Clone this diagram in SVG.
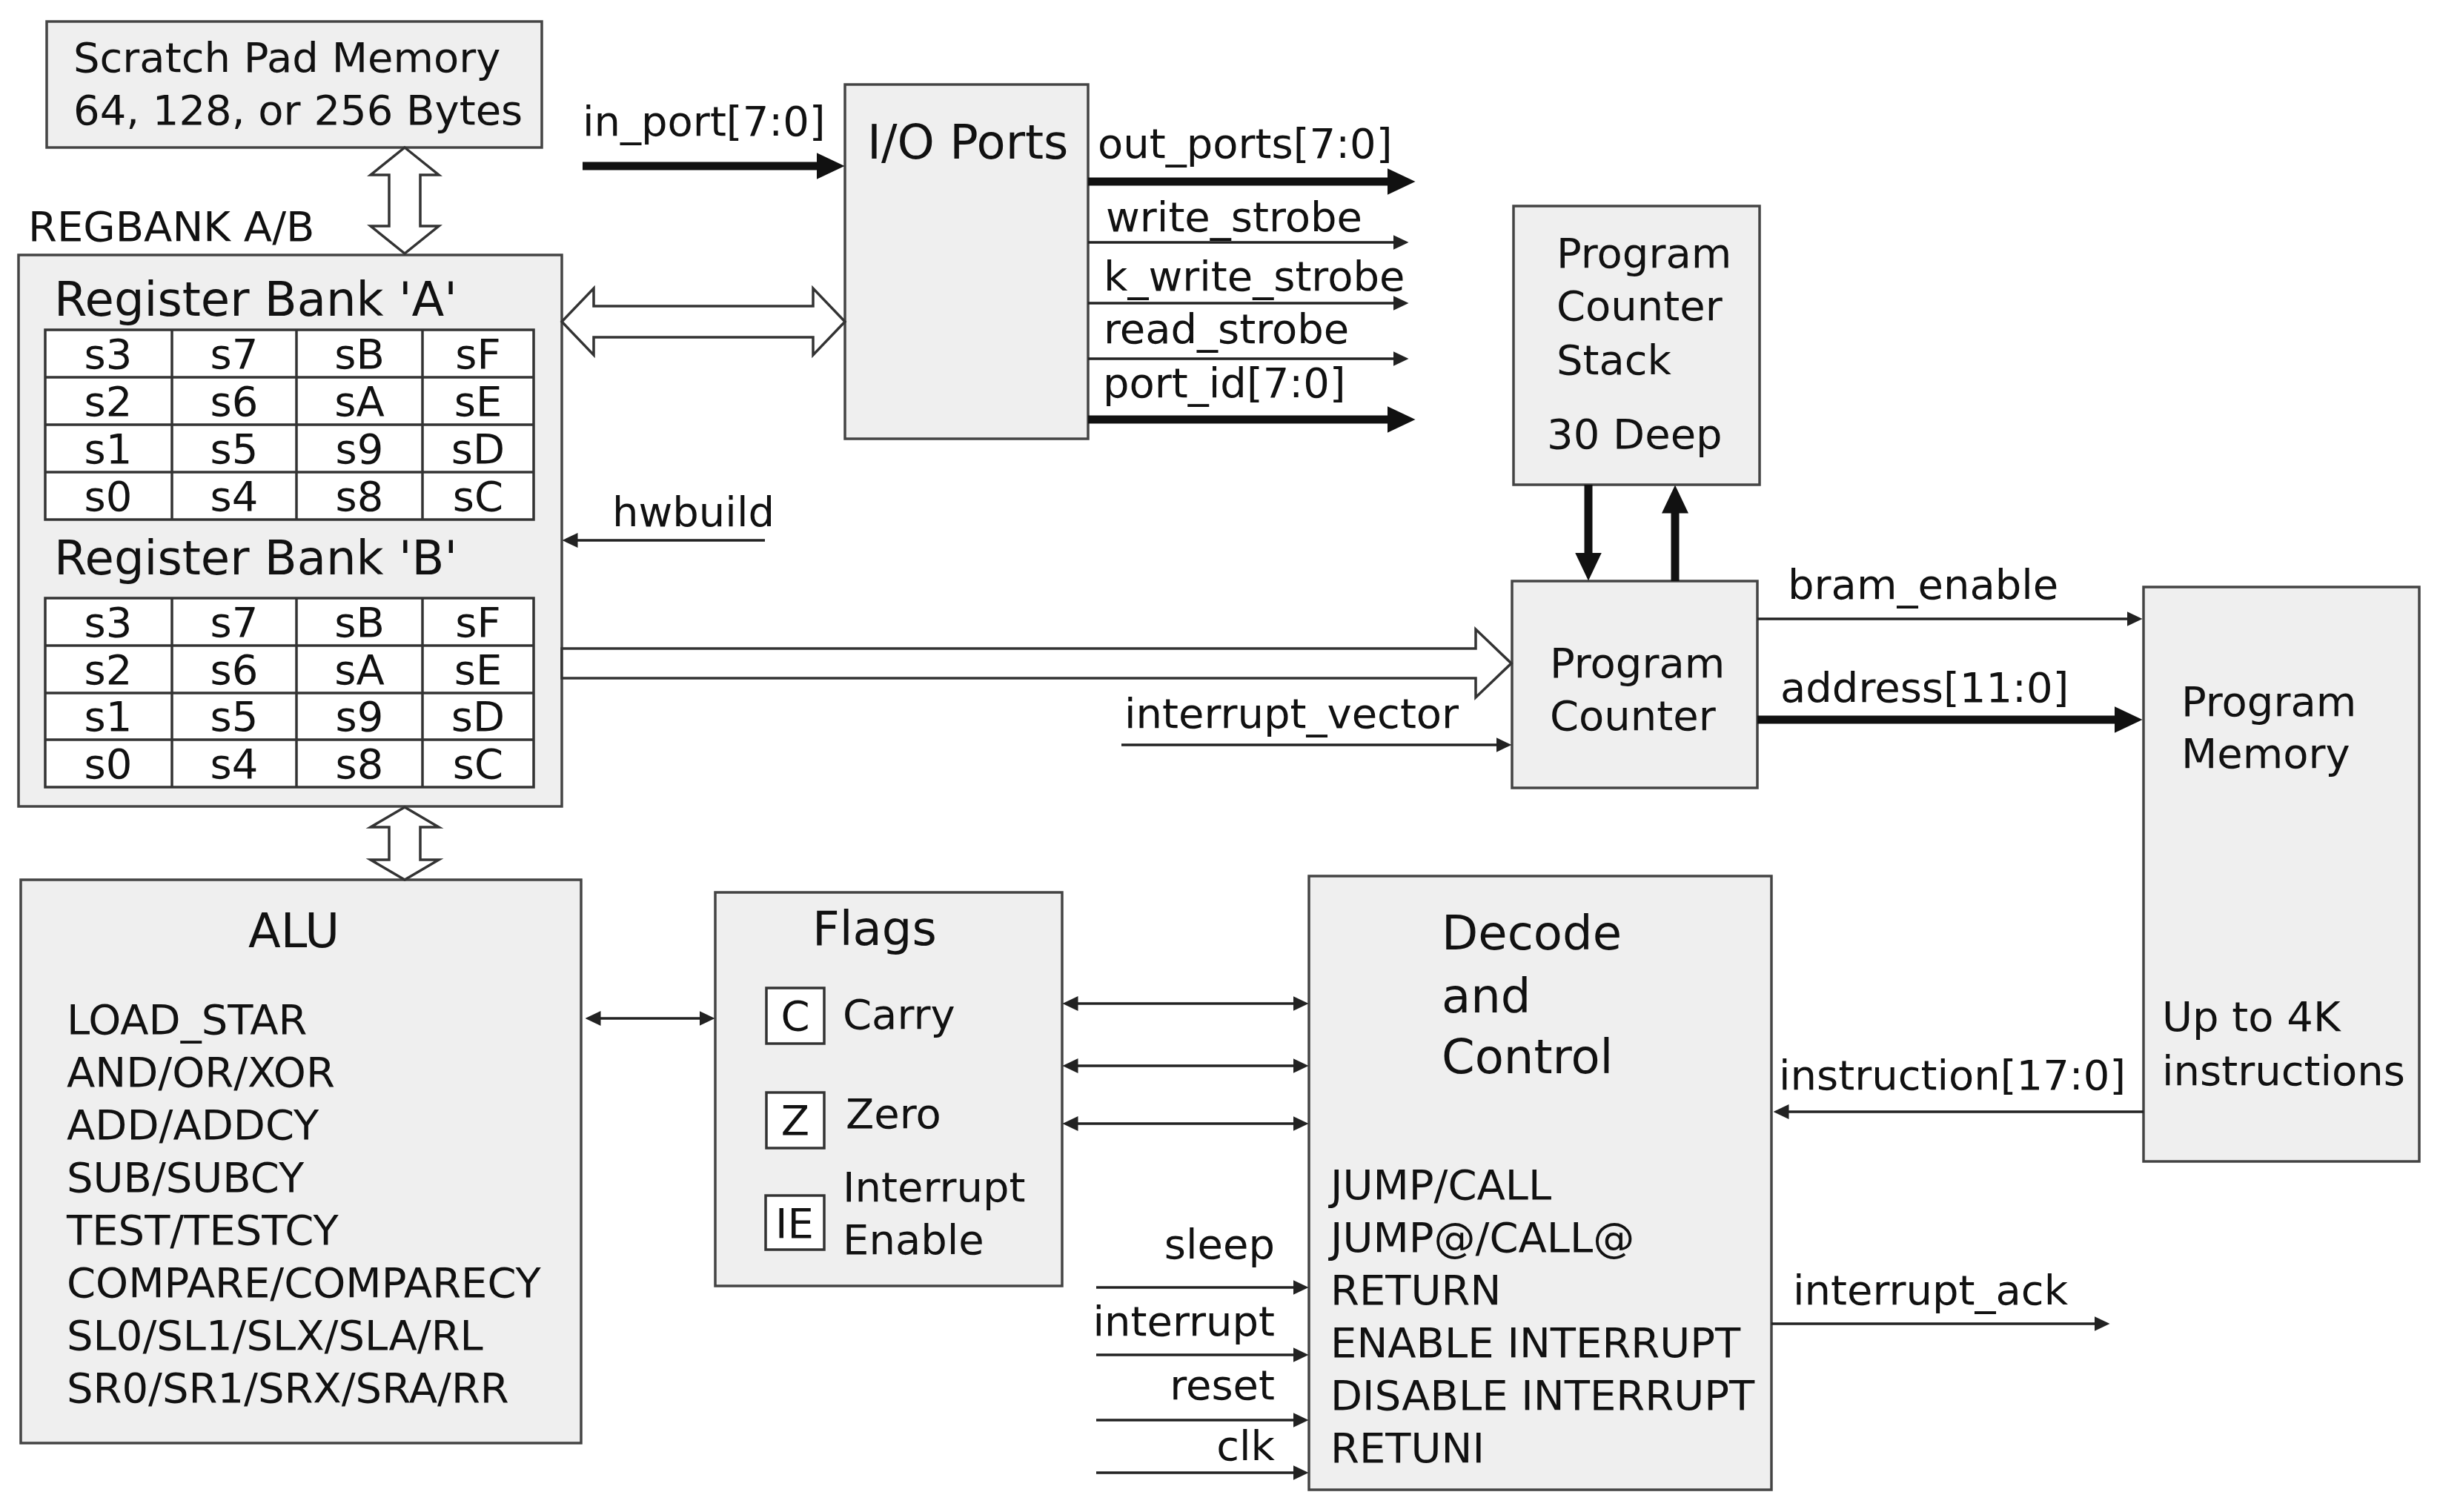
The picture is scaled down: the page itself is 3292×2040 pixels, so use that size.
<svg xmlns="http://www.w3.org/2000/svg" width="3292" height="2040" viewBox="0 0 3292 2040">
<style>
.box{fill:#efefef;stroke:#444;stroke-width:3.5}
.cell{fill:#fff;stroke:#333;stroke-width:3.5}
.t{font-family:"DejaVu Sans","Liberation Sans",sans-serif;font-size:56px;fill:#111}
.tl{font-family:"DejaVu Sans","Liberation Sans",sans-serif;font-size:64px;fill:#111}
.c{text-anchor:middle}
.e{text-anchor:end}
.thin{stroke:#222;stroke-width:3.5;fill:none;marker-end:url(#ah)}
.dbl{stroke:#222;stroke-width:3.5;fill:none;marker-end:url(#ah);marker-start:url(#ah)}
.thick{stroke:#111;stroke-width:11;fill:none;marker-end:url(#ahT)}
.hollow{fill:#fff;stroke:#333;stroke-width:3.5;stroke-linejoin:miter}
</style>
<defs>
<marker id="ah" markerUnits="userSpaceOnUse" viewBox="0 0 21 20" markerWidth="21" markerHeight="20" refX="0.5" refY="10" orient="auto-start-reverse"><path d="M0,0 L21,10 L0,20 z" fill="#222"/></marker>
<marker id="ahT" markerUnits="userSpaceOnUse" viewBox="0 0 38 36" markerWidth="38" markerHeight="36" refX="0.5" refY="18" orient="auto-start-reverse"><path d="M0,0 L38,18 L0,36 z" fill="#111"/></marker>
</defs>
<rect width="3292" height="2040" fill="#fff"/>

<g id="scratchpad">
<rect class="box" x="63" y="29" width="668" height="170"/>
<text class="t" x="99" y="97">Scratch Pad Memory</text>
<text class="t" x="99" y="168">64, 128, or 256 Bytes</text>
</g>

<text id="regbank-label" class="t" x="38" y="325">REGBANK A/B</text>

<g id="register-bank">
<rect class="box" x="25" y="344" width="733" height="744"/>
<text class="tl" x="73" y="426">Register Bank 'A'</text>
<g id="bank-a">
<rect class="cell" x="61" y="445" width="659" height="256"/>
<path d="M61,509H720M61,573H720M61,637H720M232,445V701M400,445V701M570,445V701" stroke="#333" stroke-width="3.5"/>
<text class="t c" x="146" y="497">s3</text><text class="t c" x="316" y="497">s7</text><text class="t c" x="485" y="497">sB</text><text class="t c" x="645" y="497">sF</text>
<text class="t c" x="146" y="561">s2</text><text class="t c" x="316" y="561">s6</text><text class="t c" x="485" y="561">sA</text><text class="t c" x="645" y="561">sE</text>
<text class="t c" x="146" y="625">s1</text><text class="t c" x="316" y="625">s5</text><text class="t c" x="485" y="625">s9</text><text class="t c" x="645" y="625">sD</text>
<text class="t c" x="146" y="689">s0</text><text class="t c" x="316" y="689">s4</text><text class="t c" x="485" y="689">s8</text><text class="t c" x="645" y="689">sC</text>
</g>
<text class="tl" x="73" y="775">Register Bank 'B'</text>
<g id="bank-b">
<rect class="cell" x="61" y="807" width="659" height="255"/>
<path d="M61,871H720M61,935H720M61,998H720M232,807V1062M400,807V1062M570,807V1062" stroke="#333" stroke-width="3.5"/>
<text class="t c" x="146" y="859">s3</text><text class="t c" x="316" y="859">s7</text><text class="t c" x="485" y="859">sB</text><text class="t c" x="645" y="859">sF</text>
<text class="t c" x="146" y="923">s2</text><text class="t c" x="316" y="923">s6</text><text class="t c" x="485" y="923">sA</text><text class="t c" x="645" y="923">sE</text>
<text class="t c" x="146" y="986">s1</text><text class="t c" x="316" y="986">s5</text><text class="t c" x="485" y="986">s9</text><text class="t c" x="645" y="986">sD</text>
<text class="t c" x="146" y="1050">s0</text><text class="t c" x="316" y="1050">s4</text><text class="t c" x="485" y="1050">s8</text><text class="t c" x="645" y="1050">sC</text>
</g>
</g>

<g id="io-ports">
<rect class="box" x="1140" y="114" width="328" height="478"/>
<text class="tl" x="1170" y="214">I/O Ports</text>
</g>

<g id="pc-stack">
<rect class="box" x="2042" y="278" width="332" height="376"/>
<text class="t" x="2100" y="361">Program</text>
<text class="t" x="2100" y="432">Counter</text>
<text class="t" x="2100" y="505">Stack</text>
<text class="t" x="2087" y="605">30 Deep</text>
</g>

<g id="program-counter">
<rect class="box" x="2040" y="784" width="331" height="279"/>
<text class="t" x="2091" y="914">Program</text>
<text class="t" x="2091" y="985">Counter</text>
</g>

<g id="program-memory">
<rect class="box" x="2892" y="792" width="372" height="775"/>
<text class="t" x="2943" y="966">Program</text>
<text class="t" x="2943" y="1036">Memory</text>
<text class="t" x="2917" y="1391">Up to 4K</text>
<text class="t" x="2917" y="1464">instructions</text>
</g>

<g id="alu">
<rect class="box" x="28" y="1187" width="756" height="760"/>
<text class="tl" x="335" y="1278">ALU</text>
<text class="t" x="90" y="1395">LOAD_STAR</text>
<text class="t" x="90" y="1466">AND/OR/XOR</text>
<text class="t" x="90" y="1537">ADD/ADDCY</text>
<text class="t" x="90" y="1608">SUB/SUBCY</text>
<text class="t" x="90" y="1679">TEST/TESTCY</text>
<text class="t" x="90" y="1750">COMPARE/COMPARECY</text>
<text class="t" x="90" y="1821">SL0/SL1/SLX/SLA/RL</text>
<text class="t" x="90" y="1892">SR0/SR1/SRX/SRA/RR</text>
</g>

<g id="flags">
<rect class="box" x="965" y="1204" width="468" height="531"/>
<text class="tl" x="1096" y="1275">Flags</text>
<rect class="cell" x="1034" y="1333" width="78" height="75"/>
<text class="t c" x="1073" y="1390">C</text>
<text class="t" x="1137" y="1388">Carry</text>
<rect class="cell" x="1034" y="1474" width="78" height="75"/>
<text class="t c" x="1073" y="1531">Z</text>
<text class="t" x="1141" y="1522">Zero</text>
<rect class="cell" x="1033" y="1613" width="79" height="73"/>
<text class="t c" x="1072" y="1670">IE</text>
<text class="t" x="1137" y="1621">Interrupt</text>
<text class="t" x="1137" y="1692">Enable</text>
</g>

<g id="decode-control">
<rect class="box" x="1766" y="1182" width="624" height="828"/>
<text class="tl" x="1945" y="1281">Decode</text>
<text class="tl" x="1945" y="1366">and</text>
<text class="tl" x="1945" y="1448">Control</text>
<text class="t" x="1795" y="1618">JUMP/CALL</text>
<text class="t" x="1795" y="1689">JUMP@/CALL@</text>
<text class="t" x="1795" y="1760">RETURN</text>
<text class="t" x="1795" y="1831">ENABLE INTERRUPT</text>
<text class="t" x="1795" y="1902">DISABLE INTERRUPT</text>
<text class="t" x="1795" y="1973">RETUNI</text>
</g>

<g id="connectors">
<path class="hollow" d="M546,199 L592,236 L567,236 L567,305 L592,305 L546,342 L500,305 L525,305 L525,236 L500,236 Z"/>
<path class="hollow" d="M758,434 L801,389 L801,413 L1097,413 L1097,389 L1140,434 L1097,479 L1097,455 L801,455 L801,479 Z"/>
<path class="hollow" d="M546,1089 L592,1116 L567,1116 L567,1160 L592,1160 L546,1187 L500,1160 L525,1160 L525,1116 L500,1116 Z"/>
<path class="hollow" d="M758,875 L1991,875 L1991,849 L2039,895 L1991,941 L1991,915 L758,915 Z"/>

<path class="thick" d="M786,224 H1102"/>
<text class="t" x="786" y="183">in_port[7:0]</text>

<path class="thick" d="M1468,245 H1872"/>
<text class="t" x="1481" y="213">out_ports[7:0]</text>
<path class="thin" d="M1468,327 H1880"/>
<text class="t" x="1492" y="312">write_strobe</text>
<path class="thin" d="M1468,409 H1880"/>
<text class="t" x="1489" y="392">k_write_strobe</text>
<path class="thin" d="M1468,484 H1880"/>
<text class="t" x="1489" y="463">read_strobe</text>
<path class="thick" d="M1468,566 H1872"/>
<text class="t" x="1488" y="536">port_id[7:0]</text>

<path class="thin" d="M1032,729 H779"/>
<text class="t" x="826" y="710">hwbuild</text>

<path class="thin" d="M1513,1005 H2019"/>
<text class="t" x="1517" y="982">interrupt_vector</text>

<path class="thick" d="M2143,654 V746"/>
<path class="thick" d="M2260,784 V692"/>

<path class="thin" d="M2371,835 H2870"/>
<text class="t" x="2412" y="808">bram_enable</text>
<path class="thick" d="M2371,971 H2853"/>
<text class="t" x="2402" y="947">address[11:0]</text>

<path class="thin" d="M2892,1500 H2413"/>
<text class="t" x="2400" y="1470">instruction[17:0]</text>
<path class="thin" d="M2390,1786 H2826"/>
<text class="t" x="2419" y="1760">interrupt_ack</text>

<path class="dbl" d="M810,1374 H944"/>
<path class="dbl" d="M1454,1354 H1745"/>
<path class="dbl" d="M1454,1438 H1745"/>
<path class="dbl" d="M1454,1516 H1745"/>

<path class="thin" d="M1479,1737 H1745"/>
<text class="t e" x="1720" y="1698">sleep</text>
<path class="thin" d="M1479,1828 H1745"/>
<text class="t e" x="1720" y="1802">interrupt</text>
<path class="thin" d="M1479,1916 H1745"/>
<text class="t e" x="1720" y="1888">reset</text>
<path class="thin" d="M1479,1987 H1745"/>
<text class="t e" x="1720" y="1970">clk</text>
</g>
</svg>
